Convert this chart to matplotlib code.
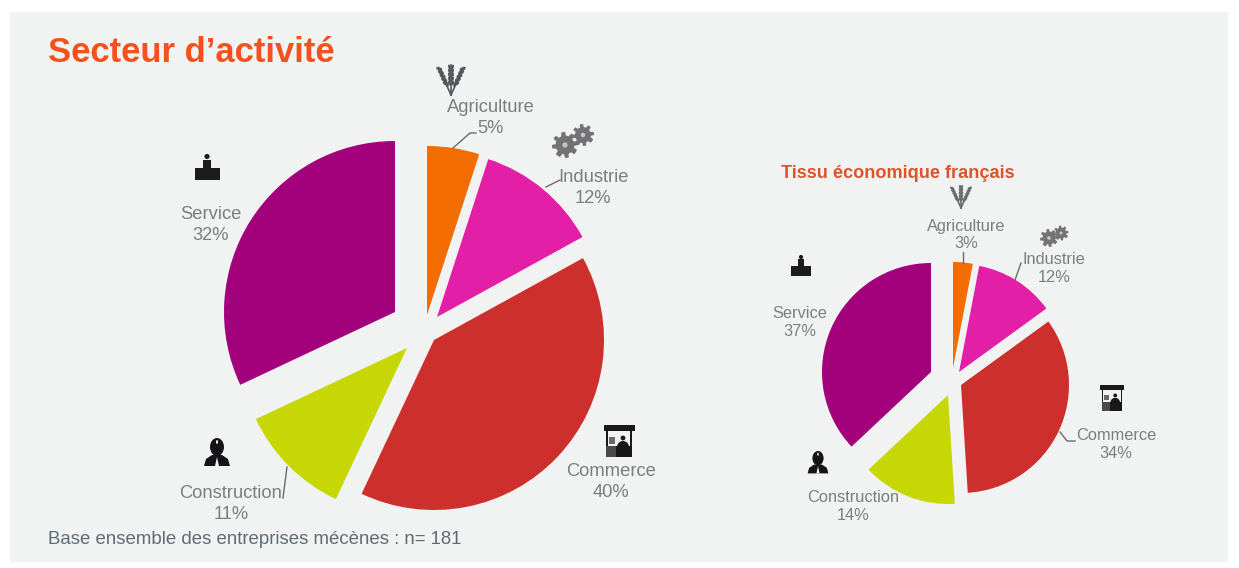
import numpy as np
import matplotlib
matplotlib.use('Agg')
import matplotlib.pyplot as plt
from matplotlib.patches import Rectangle, Ellipse, Circle, Polygon, Wedge

# Data
sectors = ['Agriculture', 'Industrie', 'Commerce', 'Construction', 'Service']
mecenes = [5, 12, 40, 11, 32]
tissu = [3, 12, 34, 14, 37]
title = 'Secteur d\u2019activité'
subtitle = 'Tissu économique français'
base_note = 'Base ensemble des entreprises mécènes : n= 181'

# Styles and layout (pixels, y going down)
W, H = 1239, 568
colors = ['#f26c00', '#e31fa8', '#cd2f2c', '#c6d705', '#a3007c']
panel = '#f1f3f3'
grey = '#7d7d80'
big_apex = [(427, 315), (437, 317), (434, 340), (407, 348), (395, 312)]
big_radius = [169, 166, 170, 167, 171]
small_apex = [(953, 368), (959, 372), (961, 385), (948, 395), (931, 372)]
small_radius = [106, 108, 108, 109, 109]
big_labels = [(491, 118), (593, 188), (611, 482), (231, 504), (211, 225)]
small_labels = [(966, 235), (1054, 269), (1116, 445), (853, 507), (800, 322)]

plt.rcParams['font.family'] = ['Liberation Sans', 'DejaVu Sans']
fig = plt.figure(figsize=(W / 100, H / 100), dpi=100, facecolor='white')
ax = fig.add_axes([0, 0, 1, 1])


def py(y):
    return H - y


def draw_pie(values, apex, radius):
    wedges, _ = ax.pie(values, startangle=90, counterclock=False, colors=colors,
                       radius=100, center=(600, 300), wedgeprops={'linewidth': 0})
    for w, a, r in zip(wedges, apex, radius):
        w.set_center((a[0], py(a[1])))
        w.set_radius(r)
        w.set_zorder(3)


def leader(xs, ys):
    ax.plot(xs, [py(y) for y in ys], color='#6b6b6e', lw=1.0, zorder=4)


def wheat(cx, base, s, color):
    # three ears on stems joined at the foot
    for ang in (-24, 0, 24):
        t = np.radians(ang)
        dx, dy = np.sin(t), np.cos(t)
        ax.plot([cx, cx + dx * 30 * s], [py(base), py(base) + dy * 30 * s], color=color,
                lw=1.2, zorder=4)
        for k in np.linspace(12, 28, 5):
            for side in (-1, 1):
                ax.add_patch(Ellipse((cx + dx * k * s + side * dy * 1.5 * s,
                                      py(base) + dy * k * s + side * dx * 1.5 * s),
                                     2.6 * s, 5 * s, angle=-ang - side * 20,
                                     color=color, lw=0, zorder=4))


def gear(cx, cy, r, color):
    ang = np.linspace(0, 2 * np.pi, 64, endpoint=False)
    rad = np.where((ang * 8 / (2 * np.pi)) % 1 < 0.5, r, r * 0.72)
    ax.add_patch(Polygon(np.c_[cx + rad * np.cos(ang), py(cy) + rad * np.sin(ang)],
                         color=color, lw=0, zorder=4))
    ax.add_patch(Circle((cx, py(cy)), r * 0.2, color='#c4c5c6', lw=0, zorder=5))


def desk(cx, top, s):
    c = '#1c1c1f'
    ax.add_patch(Circle((cx, py(top + 2.5 * s)), 2.6 * s, color=c, lw=0, zorder=4))
    ax.add_patch(Rectangle((cx - 4 * s, py(top + 14 * s)), 8 * s, 8.5 * s, color=c, lw=0, zorder=4))
    ax.add_patch(Rectangle((cx - 12.5 * s, py(top + 26 * s)), 25 * s, 12 * s, color=c, lw=0, zorder=4))


def builder(cx, top, s):
    c = '#141416'
    ax.add_patch(Ellipse((cx, py(top + 9 * s)), 14 * s, 18 * s, color=c, lw=0, zorder=4))
    ax.add_patch(Ellipse((cx, py(top + 4 * s)), 2 * s, 4 * s, color=panel, lw=0, zorder=5))
    ax.add_patch(Polygon([(cx - 13 * s, py(top + 28 * s)), (cx - 11 * s, py(top + 21 * s)),
                          (cx - 5 * s, py(top + 17 * s)), (cx + 5 * s, py(top + 17 * s)),
                          (cx + 11 * s, py(top + 21 * s)), (cx + 13 * s, py(top + 28 * s))],
                         color=c, lw=0, zorder=4))
    ax.add_patch(Polygon([(cx - 2 * s, py(top + 28 * s)), (cx, py(top + 19 * s)),
                          (cx + 2 * s, py(top + 28 * s))], color=panel, lw=0, zorder=5))


def stall(cx, top, s):
    c = '#18181a'
    ax.add_patch(Rectangle((cx - 15.5 * s, py(top + 6 * s)), 31 * s, 6 * s, color=c, lw=0, zorder=4))
    ax.add_patch(Rectangle((cx - 13 * s, py(top + 32 * s)), 2 * s, 26 * s, color=c, lw=0, zorder=4))
    ax.add_patch(Rectangle((cx + 11 * s, py(top + 32 * s)), 2 * s, 26 * s, color=c, lw=0, zorder=4))
    ax.add_patch(Rectangle((cx - 13 * s, py(top + 32 * s)), 10 * s, 11 * s, color='#4a4a4c', lw=0, zorder=4))
    ax.add_patch(Rectangle((cx - 3 * s, py(top + 32 * s)), 16 * s, 11 * s, color=c, lw=0, zorder=4))
    ax.add_patch(Rectangle((cx - 10 * s, py(top + 19 * s)), 6 * s, 7 * s, color='#6a6a6c', lw=0, zorder=4))
    ax.add_patch(Circle((cx + 4 * s, py(top + 13 * s)), 2.4 * s, color=c, lw=0, zorder=4))
    ax.add_patch(Wedge((cx + 4 * s, py(top + 22 * s)), 6 * s, 0, 180, color=c, lw=0, zorder=4))


draw_pie(mecenes, big_apex, big_radius)
draw_pie(tissu, small_apex, small_radius)

ax.set_xlim(0, W)
ax.set_ylim(0, H)
ax.set_aspect('auto')
ax.axis('off')
ax.add_patch(Rectangle((10, py(562)), 1218, 550, facecolor=panel, lw=0, zorder=0))

for name, v, (x, y) in zip(sectors, mecenes, big_labels):
    ax.text(x, py(y), f'{name}\n{v}%', ha='center', va='center', fontsize=13.2,
            color=grey, linespacing=1.3, zorder=6)
for name, v, (x, y) in zip(sectors, tissu, small_labels):
    ax.text(x, py(y), f'{name}\n{v}%', ha='center', va='center', fontsize=11.8,
            color=grey, linespacing=1.25, zorder=6)

ax.text(48, py(53), title, fontsize=24.9, fontweight='bold', color='#f4511e', ha='left', va='center')
ax.text(781, py(173), subtitle, fontsize=13.1, fontweight='bold', color='#e0522a', ha='left', va='center')
ax.text(48, py(539), base_note, fontsize=13.4, color='#5f6b73', ha='left', va='center')

leader([453, 470, 476], [148, 133, 133])
leader([546, 560], [187, 180])
leader([287, 283], [467, 498])
leader([963, 963], [263, 252])
leader([1015, 1021], [280, 263])
leader([1060, 1067, 1075], [432, 441, 441])

wheat(451, 95, 1.0, '#55565a')
wheat(961, 208, 0.75, '#6a6b6e')
gear(565, 145, 13, '#737375')
gear(583, 135, 11, '#737375')
gear(1049, 238, 9, '#737375')
gear(1061, 233, 7.5, '#737375')
desk(207, 154, 1.0)
desk(801, 255, 0.8)
builder(217, 438, 1.0)
builder(818, 451, 0.8)
stall(619, 425, 1.0)
stall(1112, 385, 0.8)

fig.savefig('out.png', dpi=100, facecolor='white')
